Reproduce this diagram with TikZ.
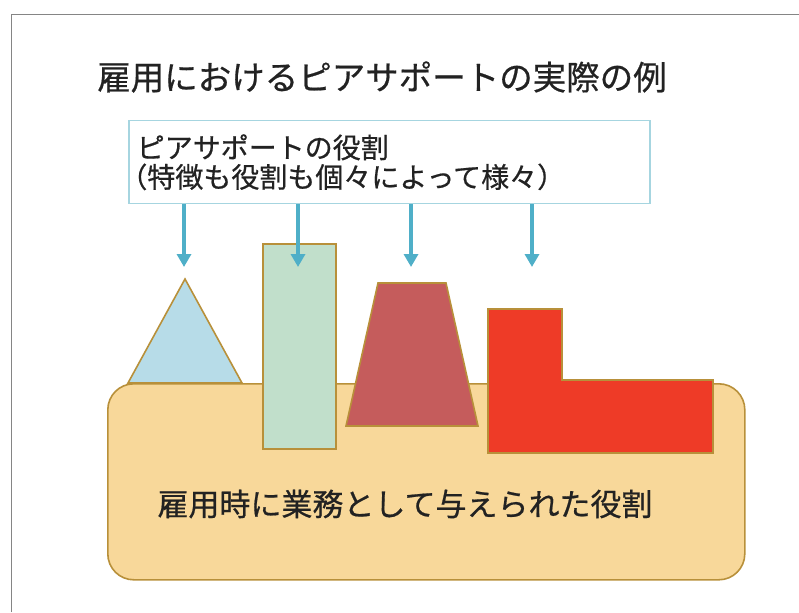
\documentclass[tikz,border=0pt]{standalone}
\usepackage{fontspec}
\setmainfont{Noto Sans CJK JP}[FakeBold=0.6]
\usetikzlibrary{arrows.meta}
\definecolor{framec}{HTML}{858585}
\definecolor{boxc}{HTML}{A6D5E0}
\definecolor{arrc}{HTML}{4FAFC8}
\definecolor{goldc}{HTML}{B8903A}
\definecolor{basec}{HTML}{F8D89A}
\definecolor{trif}{HTML}{B7DCE8}
\definecolor{greenf}{HTML}{C1DFCB}
\definecolor{trapf}{HTML}{C55C5C}
\definecolor{lf}{HTML}{EE3B27}
\definecolor{txtc}{HTML}{222222}
\tikzset{
  arr/.style={arrc, line width=3.5pt, -{Triangle[width=14pt,length=13pt]}},
  solid/.style={draw=goldc, line width=1.6pt, line join=miter},
}
\begin{document}
\begin{tikzpicture}[x=1pt,y=-1pt]
\useasboundingbox (0,0) rectangle (799,612);
\draw[framec, line width=1.5pt] (11.5,612) -- (11.5,14.5) -- (799,14.5);
\node[text=txtc, font=\fontsize{33.5}{40}\selectfont] (title) at (382,77) {雇用におけるピアサポートの実際の例};
\node[draw=boxc, line width=1.5pt, anchor=north west, minimum width=521pt, minimum height=83pt,
      text width=505pt, inner xsep=8pt, align=left, text=txtc,
      font=\fontsize{28}{29.5}\selectfont] (rolebox) at (128,120)
  {ピアサポートの役割\\\hspace*{-0.62em}（特徴も役割も個々によって様々）};
\coordinate (a1) at (184,267);
\coordinate (a2) at (298,267);
\coordinate (a3) at (411,267);
\coordinate (a4) at (532,267);
\node[solid, fill=basec, rounded corners=26pt, anchor=north west, minimum width=637pt, minimum height=196pt] (base) at (107,383) {};
\node[text=txtc, font=\fontsize{31}{36}\selectfont] (basetext) at (405,504) {雇用時に業務として与えられた役割};
\draw[solid, fill=trif] (128,383) -- (185,279) -- (242,383) -- cycle;
\draw[solid, fill=greenf] (263,244) rectangle (336,449);
\draw[solid, fill=trapf] (378,283) -- (446,283) -- (478,426) -- (346,426) -- cycle;
\draw[solid, fill=lf] (488,309) -- (562,309) -- (562,380) -- (713,380) -- (713,453) -- (488,453) -- cycle;
\foreach \a in {a1,a2,a3,a4} \draw[arr] (rolebox.south -| \a) -- (\a);
\end{tikzpicture}
\end{document}
